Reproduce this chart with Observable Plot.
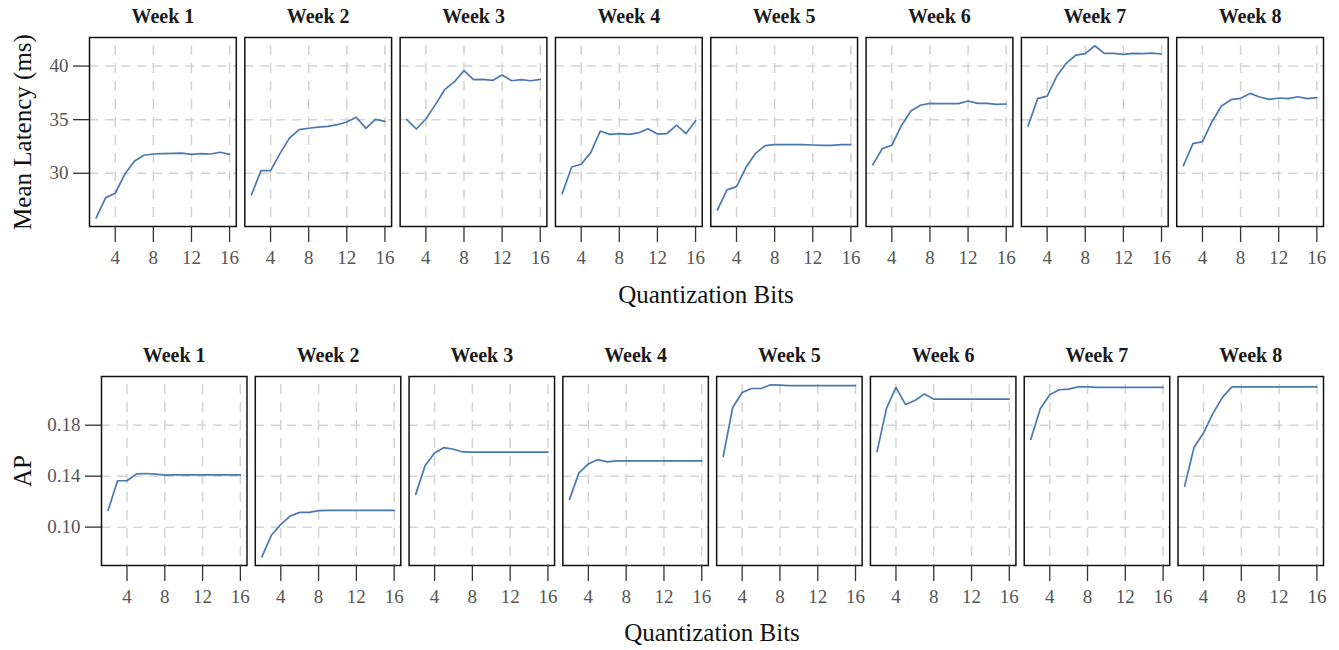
<!DOCTYPE html>
<html>
<head>
<meta charset="utf-8">
<script src="https://cdn.jsdelivr.net/npm/d3@7"></script>
<script src="https://cdn.jsdelivr.net/npm/@observablehq/plot@0.6"></script>
<style>
  html, body { margin: 0; padding: 0; background: #fff; }
  #root { width: 1339px; font-family: "Liberation Serif", "DejaVu Serif", serif; }
  .xlabel { box-sizing: border-box; width: 1339px; text-align: center; font-size: 25px; color: #111; }
  svg { display: block; }
</style>
</head>
<body>
<div id="root"></div>
<script>
const weeks = ["Week 1", "Week 2", "Week 3", "Week 4", "Week 5", "Week 6", "Week 7", "Week 8"];
const bits = [2, 3, 4, 5, 6, 7, 8, 9, 10, 11, 12, 13, 14, 15, 16];
const bitTicks = [4, 8, 12, 16];
const latencyTicks = [30, 35, 40];
const apTicks = [0.10, 0.14, 0.18];
const apTickLabels = ["0.10", "0.14", "0.18"];

// Mean latency (ms) per week, bits 2..16
const latencyWeek1 = [25.84, 27.73, 28.14, 29.9, 31.12, 31.68, 31.8, 31.83, 31.85, 31.88, 31.77, 31.83, 31.8, 31.96, 31.77];
const latencyWeek2 = [28.0, 30.25, 30.25, 31.86, 33.3, 34.07, 34.2, 34.3, 34.38, 34.53, 34.78, 35.22, 34.19, 35.03, 34.84];
const latencyWeek3 = [35.0, 34.13, 35.06, 36.4, 37.83, 38.54, 39.57, 38.73, 38.76, 38.66, 39.16, 38.63, 38.73, 38.63, 38.76];
const latencyWeek4 = [28.1, 30.59, 30.84, 31.93, 33.94, 33.63, 33.7, 33.63, 33.76, 34.16, 33.66, 33.7, 34.5, 33.7, 34.91];
const latencyWeek5 = [26.58, 28.45, 28.76, 30.56, 31.86, 32.58, 32.67, 32.67, 32.67, 32.67, 32.64, 32.6, 32.6, 32.67, 32.67];
const latencyWeek6 = [30.78, 32.3, 32.61, 34.44, 35.81, 36.34, 36.52, 36.49, 36.49, 36.49, 36.74, 36.52, 36.52, 36.43, 36.46];
const latencyWeek7 = [34.41, 36.96, 37.2, 39.04, 40.25, 41.02, 41.15, 41.89, 41.18, 41.18, 41.09, 41.18, 41.15, 41.21, 41.12];
const latencyWeek8 = [30.71, 32.76, 32.95, 34.81, 36.27, 36.86, 36.99, 37.45, 37.11, 36.89, 37.02, 36.96, 37.14, 36.96, 37.05];

// AP per week, bits 2..16
const apWeek1 = [0.1132, 0.1364, 0.1364, 0.1418, 0.1421, 0.1416, 0.1408, 0.141, 0.141, 0.141, 0.141, 0.141, 0.141, 0.141, 0.141];
const apWeek2 = [0.0767, 0.0936, 0.1022, 0.1087, 0.1116, 0.1116, 0.1129, 0.1132, 0.1132, 0.1132, 0.1132, 0.1132, 0.1132, 0.1132, 0.1132];
const apWeek3 = [0.1257, 0.1483, 0.1582, 0.1624, 0.1611, 0.159, 0.1588, 0.1588, 0.1588, 0.1588, 0.1588, 0.1588, 0.1588, 0.1588, 0.1588];
const apWeek4 = [0.1218, 0.1426, 0.1496, 0.153, 0.1512, 0.152, 0.152, 0.152, 0.152, 0.152, 0.152, 0.152, 0.152, 0.152, 0.152];
const apWeek5 = [0.1556, 0.1939, 0.2057, 0.2088, 0.2088, 0.2117, 0.2114, 0.2111, 0.2111, 0.2111, 0.2111, 0.2111, 0.2111, 0.2111, 0.2111];
const apWeek6 = [0.1593, 0.1932, 0.2096, 0.1963, 0.1994, 0.2044, 0.2005, 0.2005, 0.2005, 0.2005, 0.2005, 0.2005, 0.2005, 0.2005, 0.2005];
const apWeek7 = [0.1689, 0.1929, 0.2038, 0.2078, 0.2083, 0.2101, 0.2101, 0.2096, 0.2096, 0.2096, 0.2096, 0.2096, 0.2096, 0.2096, 0.2096];
const apWeek8 = [0.1322, 0.1627, 0.1739, 0.1893, 0.2018, 0.2101, 0.2101, 0.2101, 0.2101, 0.2101, 0.2101, 0.2101, 0.2101, 0.2101, 0.2101];

const latencySeries = [latencyWeek1, latencyWeek2, latencyWeek3, latencyWeek4, latencyWeek5, latencyWeek6, latencyWeek7, latencyWeek8];
const apSeries = [apWeek1, apWeek2, apWeek3, apWeek4, apWeek5, apWeek6, apWeek7, apWeek8];

function toRows(series) {
  const rows = [];
  series.forEach((vals, i) => vals.forEach((v, j) => rows.push({week: weeks[i], bits: bits[j], value: v})));
  return rows;
}

const FONT = "Liberation Serif";
const LINE = "#4a79b2";
const GRID = {stroke: "#d4d4d4", strokeOpacity: 1, strokeWidth: 1.5};

function panelRow({rows, height, marginTop, marginBottom, marginLeft, marginRight, yDomain, yTicks, yFormat, yLabel, yLabelOffset, titleDy, padInner}) {
  return Plot.plot({
    width: 1339,
    height, marginTop, marginBottom, marginLeft, marginRight,
    style: {fontFamily: FONT, fontSize: "19px", background: "white", overflow: "visible"},
    fx: {domain: weeks, paddingInner: padInner, paddingOuter: 0, round: false, axis: null, label: null},
    x: {domain: [1.3, 16.7]},
    y: {domain: yDomain},
    marks: [
      Plot.gridY(yTicks, {...GRID, strokeDasharray: "9,7"}),
      Plot.gridX(bitTicks, {...GRID, strokeDasharray: "10,8", strokeDashoffset: -8}),
      Plot.line(rows, {x: "bits", y: "value", fx: "week", stroke: LINE, strokeWidth: 1.7}),
      Plot.frame({stroke: "#111", strokeWidth: 1.5}),
      Plot.axisX({ticks: bitTicks, tickSize: 16, tickPadding: 8, fontSize: 19, stroke: "#333", strokeWidth: 1.3, color: "#555", label: null}),
      Plot.axisY({ticks: yTicks, tickFormat: yFormat, tickSize: 16, tickPadding: 5, fontSize: 19, stroke: "#333", strokeWidth: 1.3, color: "#555", label: null}),
      Plot.text(weeks, {fx: d => d, text: d => d, frameAnchor: "top", dy: titleDy, lineAnchor: "middle", fontSize: 20, fontWeight: "bold", fill: "#1a1a1a"}),
      Plot.text([yLabel], {fx: () => weeks[0], text: d => d, frameAnchor: "left", dx: -yLabelOffset, rotate: -90, textAnchor: "middle", lineAnchor: "middle", fontSize: 25, fill: "#111"})
    ]
  });
}

const root = document.getElementById("root");

const topRow = panelRow({
  rows: toRows(latencySeries), height: 272, marginTop: 37, marginBottom: 46, marginLeft: 89, marginRight: 16,
  yDomain: [25.04, 42.66], yTicks: latencyTicks, yFormat: d => String(d), yLabel: "Mean Latency (ms)", yLabelOffset: 67,
  titleDy: -21, padInner: 0.055
});
root.appendChild(topRow);

const lab1 = document.createElement("div");
lab1.className = "xlabel";
lab1.style.cssText = "height:48px;line-height:46px;padding-left:89px;padding-right:16px;";
lab1.textContent = "Quantization Bits";
root.appendChild(lab1);

const bottomRow = panelRow({
  rows: toRows(apSeries), height: 292, marginTop: 56, marginBottom: 47, marginLeft: 101, marginRight: 16,
  yDomain: [0.0699, 0.2182], yTicks: apTicks, yFormat: d => apTickLabels[apTicks.indexOf(d)] ?? d.toFixed(2), yLabel: "AP", yLabelOffset: 79,
  titleDy: -21, padInner: 0.054
});
root.appendChild(bottomRow);

const lab2 = document.createElement("div");
lab2.className = "xlabel";
lab2.style.cssText = "height:38px;line-height:42px;padding-left:101px;padding-right:16px;";
lab2.textContent = "Quantization Bits";
root.appendChild(lab2);
</script>
</body>
</html>
